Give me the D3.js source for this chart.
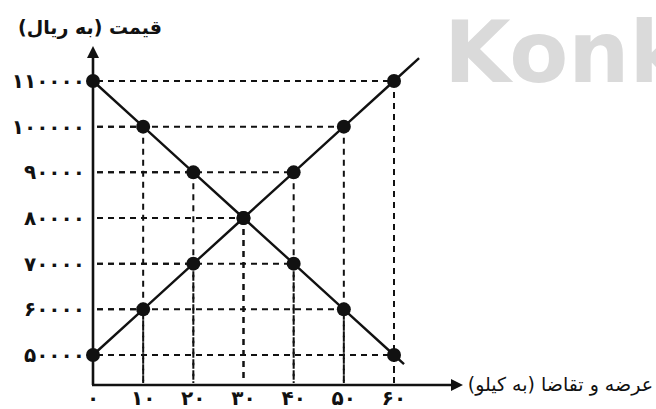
<!DOCTYPE html>
<html>
<head>
<meta charset="utf-8">
<script src="https://cdn.jsdelivr.net/npm/d3@7"></script>
<style>
  body { margin: 0; background: #fff; }
  svg { display: block; }
</style>
</head>
<body>
<svg id="chart" width="656" height="409"></svg>
<script>
// data
var quantities = [0, 10, 20, 30, 40, 50, 60];
var demandPrices = [110000, 100000, 90000, 80000, 70000, 60000, 50000];
var supplyPrices = [50000, 60000, 70000, 80000, 90000, 100000, 110000];
var priceTicks = [50000, 60000, 70000, 80000, 90000, 100000, 110000];
var qtyTicks = [0, 10, 20, 30, 40, 50, 60];
// where the drawn lines run out past the last point
var demandTail = [62, 48000];
var supplyTail = [65, 115000];

var yTitle = "قیمت (به ریال)";
var xTitle = "عرضه و تقاضا (به کیلو)";

var faDigits = "۰۱۲۳۴۵۶۷۸۹";
var toFa = (n) => String(n).replace(/[0-9]/g, (c) => faDigits[+c]);

var svg = d3.select("#chart");

var x = d3.scaleLinear().domain([0, 60]).range([93, 394]);
var y = d3.scaleLinear().domain([50000, 110000]).range([355, 81]);
var x0 = x(0), yBase = 385;

// watermark
svg.append("text")
    .attr("x", 444).attr("y", 82)
    .attr("font-family", "DejaVu Sans, sans-serif")
    .attr("font-weight", "bold")
    .attr("font-size", 86)
    .attr("fill", "#dadada")
    .text("Konk");

var demand = quantities.map((q, i) => [q, demandPrices[i]]);
var supply = quantities.map((q, i) => [q, supplyPrices[i]]);
var points = demand.concat(supply);

// dashed guides from each point to both axes
var guides = svg.append("g")
    .attr("stroke", "#111")
    .attr("stroke-width", 2)
    .attr("stroke-dasharray", "6,5");

guides.selectAll(".h")
    .data(points.filter(d => d[0] > 0))
    .enter().append("line")
    .attr("x1", x0 + 4).attr("x2", d => x(d[0]))
    .attr("y1", d => y(d[1])).attr("y2", d => y(d[1]));

guides.selectAll(".v")
    .data(points.filter(d => d[0] > 0))
    .enter().append("line")
    .attr("x1", d => x(d[0])).attr("x2", d => x(d[0]))
    .attr("y1", d => y(d[1])).attr("y2", yBase - 2);

// axes
svg.append("line")
    .attr("x1", x0).attr("x2", x0)
    .attr("y1", yBase).attr("y2", 56)
    .attr("stroke", "#111").attr("stroke-width", 2.6);
svg.append("path")
    .attr("d", `M${x0},46 L${x0 - 6},58 L${x0 + 6},58 Z`)
    .attr("fill", "#111");
svg.append("line")
    .attr("x1", x0 - 1).attr("x2", 453)
    .attr("y1", yBase).attr("y2", yBase)
    .attr("stroke", "#111").attr("stroke-width", 2.6);
svg.append("path")
    .attr("d", `M463,${yBase} L451,${yBase - 6} L451,${yBase + 6} Z`)
    .attr("fill", "#111");

// demand & supply lines
var line = d3.line().x(d => x(d[0])).y(d => y(d[1]));
svg.append("path")
    .datum(demand.concat([demandTail]))
    .attr("d", line)
    .attr("fill", "none").attr("stroke", "#111").attr("stroke-width", 2.4);
svg.append("path")
    .datum(supply.concat([supplyTail]))
    .attr("d", line)
    .attr("fill", "none").attr("stroke", "#111").attr("stroke-width", 2.4);

svg.append("g").selectAll("circle")
    .data(points)
    .enter().append("circle")
    .attr("cx", d => x(d[0]))
    .attr("cy", d => y(d[1]))
    .attr("r", 7)
    .attr("fill", "#111");

// tick labels
svg.append("g").selectAll("text")
    .data(priceTicks)
    .enter().append("text")
    .attr("x", 85)
    .attr("y", d => y(d) + 7)
    .attr("text-anchor", "end")
    .attr("font-family", "DejaVu Sans, sans-serif")
    .attr("font-weight", "bold")
    .attr("font-size", 20)
    .attr("letter-spacing", 1)
    .attr("fill", "#111")
    .text(d => toFa(d));

svg.append("g").selectAll("text")
    .data(qtyTicks)
    .enter().append("text")
    .attr("x", d => x(d))
    .attr("y", 405)
    .attr("text-anchor", "middle")
    .attr("font-family", "DejaVu Sans, sans-serif")
    .attr("font-weight", "bold")
    .attr("font-size", 20)
    .attr("letter-spacing", 1)
    .attr("fill", "#111")
    .text(d => toFa(d));

// axis titles
svg.append("text")
    .attr("x", 90).attr("y", 34)
    .attr("text-anchor", "middle")
    .attr("direction", "rtl")
    .attr("font-family", "DejaVu Sans, sans-serif")
    .attr("font-weight", "bold")
    .attr("font-size", 19)
    .attr("fill", "#111")
    .text(yTitle);

svg.append("text")
    .attr("x", 653).attr("y", 391)
    .attr("text-anchor", "start")
    .attr("direction", "rtl")
    .attr("font-family", "DejaVu Sans, sans-serif")
    .attr("font-size", 19)
    .attr("fill", "#111")
    .text(xTitle);
</script>
</body>
</html>
